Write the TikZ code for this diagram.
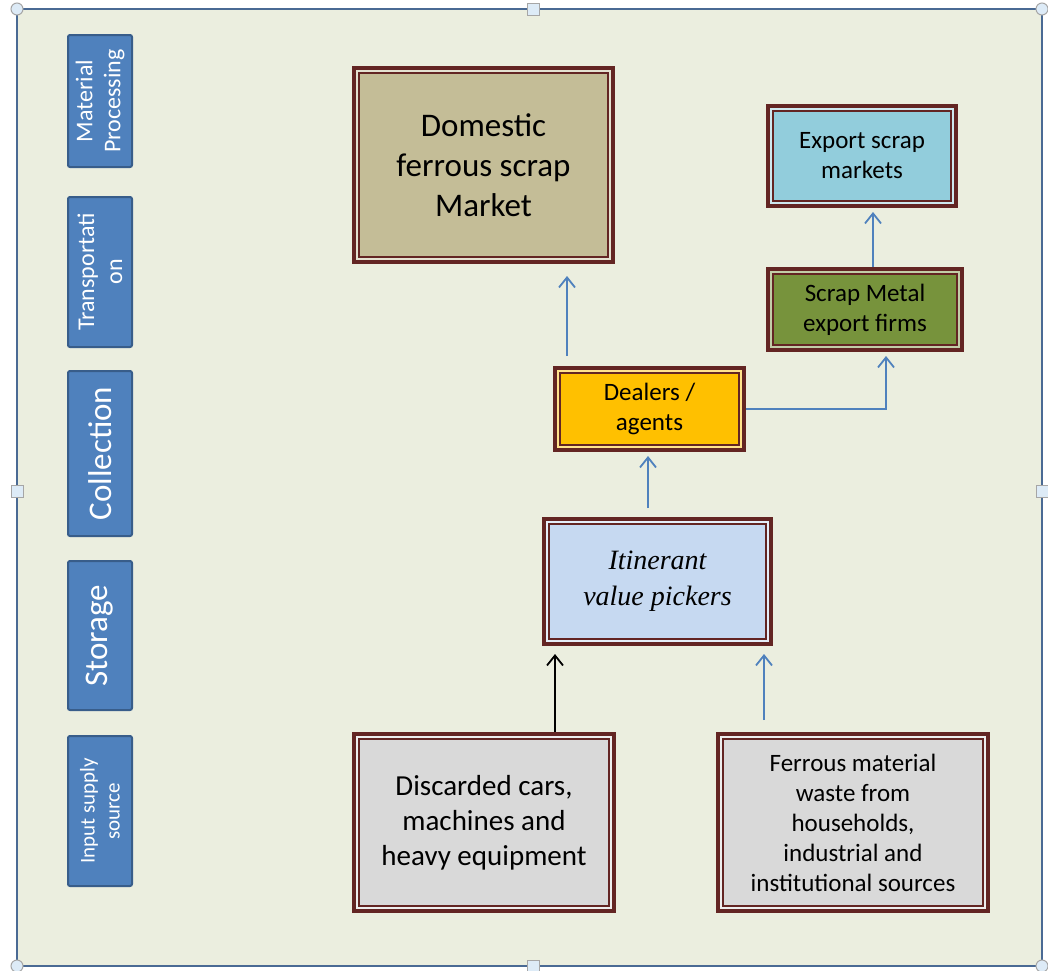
\documentclass[tikz,border=0pt]{standalone}
\usepackage{fontspec}
\setmainfont{Carlito}
\newfontfamily\pickfont{Liberation Serif}
\usetikzlibrary{arrows.meta}

\definecolor{bgfill}{HTML}{EBEEDF}
\definecolor{bgline}{HTML}{4A6A94}
\definecolor{handlefill}{HTML}{DDEBF7}
\definecolor{stagefill}{HTML}{4F81BD}
\definecolor{stageline}{HTML}{385D8A}
\definecolor{frame}{HTML}{632523}
\definecolor{domfill}{HTML}{C4BD97}
\definecolor{expfill}{HTML}{92CDDC}
\definecolor{firmfill}{HTML}{77933C}
\definecolor{deafill}{HTML}{FFC000}
\definecolor{pickfill}{HTML}{C6D9F1}
\definecolor{grayfill}{HTML}{D9D9D9}
\definecolor{arrowblue}{HTML}{4F81BD}

\begin{document}
\begin{tikzpicture}[x=0.5pt, y=-0.5pt,
  stage/.style={draw=stageline, fill=stagefill, line width=1pt, rounded corners=1pt,
    rotate=90, minimum height=32pt, text=white, align=center, inner sep=1pt},
  box/.style={draw=frame, line width=4pt, align=center, inner sep=2pt},
  handle/.style={draw=gray!70, fill=handlefill, line width=0.5pt},
  flow/.style={draw=arrowblue, line width=0.9pt, -{Straight Barb[length=5pt,width=8pt]}},
  flowblack/.style={flow, draw=black}]
  \useasboundingbox (0,0) rectangle (1048,970);

  % background panel
  \draw[draw=bgline, fill=bgfill, line width=1.2pt] (17,9) rectangle (1042,966);
  \foreach \hx/\hy in {17/9, 17/966, 1042/9, 1042/966}
    \draw[handle] (\hx,\hy) circle[radius=3pt];
  \foreach \hx/\hy in {533/9, 17/491, 1042/491, 533/966}
    \draw[handle] (\hx-6,\hy-6) rectangle (\hx+6,\hy+6);

  % stages
  \node[stage, minimum width=66pt, font=\fontsize{12}{14}\selectfont] (proc) at (100,101) {Material\\Processing};
  \node[stage, minimum width=75pt, font=\fontsize{12}{14}\selectfont] (trans) at (100,272) {Transportati\\on};
  \node[stage, minimum width=82.5pt, font=\fontsize{16.5}{20}\selectfont] (coll) at (100,453.5) {Collection};
  \node[stage, minimum width=74.5pt, font=\fontsize{16.5}{20}\selectfont] (stor) at (100,635.5) {Storage};
  \node[stage, minimum width=75pt, font=\fontsize{10.5}{12.5}\selectfont] (inp) at (100,811) {Input supply\\source};

  % market chain
  \node[box, fill=domfill, minimum width=127.5pt, minimum height=95pt,
    font=\fontsize{16.5}{20}\selectfont] (dom) at (483.5,165) {Domestic\\ferrous scrap\\Market};
  \node[box, fill=expfill, minimum width=92pt, minimum height=48pt,
    font=\fontsize{12.5}{15}\selectfont] (exp) at (862,156) {Export scrap\\markets};
  \node[box, fill=firmfill, minimum width=95pt, minimum height=38.5pt,
    font=\fontsize{12.5}{15}\selectfont] (firm) at (865,309.5) {Scrap Metal\\export firms};
  \node[box, fill=deafill, minimum width=92.5pt, minimum height=39pt,
    font=\fontsize{12.5}{15}\selectfont] (dea) at (649.5,409) {Dealers /\\agents};
  \node[box, fill=pickfill, minimum width=111.5pt, minimum height=60.5pt,
    font=\pickfont\itshape\fontsize{14}{18}\selectfont] (pick) at (657.5,581.5) {Itinerant\\value pickers};
  \node[box, fill=grayfill, minimum width=128pt, minimum height=86.5pt,
    font=\fontsize{14.5}{17.5}\selectfont] (disc) at (484,822.5) {Discarded cars,\\machines and\\heavy equipment};
  \node[box, fill=grayfill, minimum width=133pt, minimum height=86.5pt,
    font=\fontsize{12.5}{15}\selectfont] (ferr) at (853,822.5) {Ferrous material\\waste from\\households,\\industrial and\\institutional sources};

  % inner frame lines
  \foreach \n/\c in {dom/domfill, exp/expfill, firm/firmfill, dea/deafill, pick/pickfill, disc/grayfill, ferr/grayfill} {
    \draw[draw=\c!45!white, line width=1pt] ([shift={(2.7pt,-2.7pt)}]\n.north west) rectangle ([shift={(-2.7pt,2.7pt)}]\n.south east);
    \draw[draw=frame, line width=0.6pt] ([shift={(3.9pt,-3.9pt)}]\n.north west) rectangle ([shift={(-3.9pt,3.9pt)}]\n.south east);
  }

  % arrows
  \draw[flow, shorten <=5pt, shorten >=6pt] ([xshift=7pt]dea.north west) -- ([xshift=7pt]dea.north west |- dom.south);
  \draw[flow, shorten >=2pt] (dea.east) -| ([xshift=10.5pt]firm.south);
  \draw[flow, shorten >=2pt] ([xshift=4pt]firm.north) -- ([xshift=4pt]firm.north |- exp.south);
  \draw[flow, shorten <=4.5pt, shorten >=2pt] ([xshift=-0.75pt]dea.south |- pick.north) -- ([xshift=-0.75pt]dea.south);
  \draw[flowblack, shorten >=4pt] ([xshift=6.5pt]pick.south west |- disc.north) -- ([xshift=6.5pt]pick.south west);
  \draw[flow, shorten <=6pt, shorten >=4pt] ([xshift=-4.5pt]pick.south east |- ferr.north) -- ([xshift=-4.5pt]pick.south east);
\end{tikzpicture}
\end{document}
